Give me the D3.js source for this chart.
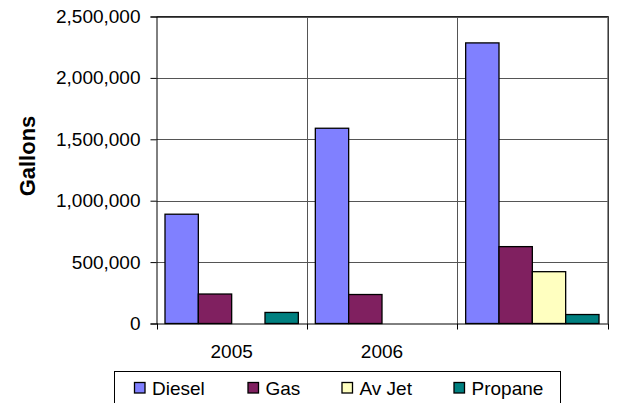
<!DOCTYPE html>
<html>
<head>
<meta charset="utf-8">
<script src="https://cdn.jsdelivr.net/npm/d3@7"></script>
<style>
html,body{margin:0;padding:0;background:#fff;}
svg{display:block;font-family:Arial,"Liberation Sans",sans-serif;}
</style>
</head>
<body>
<svg id="chart" width="626" height="403"></svg>
<script>
const categories = ["2005", "2006", ""];
const seriesNames = ["Diesel", "Gas", "Av Jet", "Propane"];
const diesel = [890000, 1590000, 2285000];
const gas = [240000, 236000, 626000];
const avJet = [0, 0, 422000];
const propane = [90000, 0, 73000];
const yTicks = [0, 500000, 1000000, 1500000, 2000000, 2500000];
const colors = ["#8080FF", "#802060", "#FFFFC0", "#008080"];
const seriesValues = [diesel, gas, avJet, propane];

const svg = d3.select("#chart");
const L = 156.5, R = 607.5, T = 16.5, B = 323.5;
const FS = 19;

const x0 = d3.scaleBand().domain(categories.map((c, i) => i)).range([L, R]).padding(0);
const x1 = d3.scaleBand().domain(seriesNames).range([0, x0.bandwidth()]).paddingInner(0).paddingOuter(0.255);
const y = d3.scaleLinear().domain([0, 2500000]).range([B, T]);

// horizontal gridlines
svg.append("g").selectAll("line").data(yTicks.slice(1)).join("line")
  .attr("x1", L).attr("x2", R)
  .attr("y1", d => Math.round(y(d)) + 0.5).attr("y2", d => Math.round(y(d)) + 0.5)
  .attr("stroke", "#555").attr("stroke-width", 1);

// vertical category gridlines
const boundaries = categories.map((c, i) => x0(i)).slice(1).concat([R]);
svg.append("g").selectAll("line").data(boundaries).join("line")
  .attr("x1", d => Math.round(d) + 0.5).attr("x2", d => Math.round(d) + 0.5)
  .attr("y1", T).attr("y2", B)
  .attr("stroke", "#555").attr("stroke-width", 1);

// top/right border
svg.append("line").attr("x1", L).attr("x2", R + 1).attr("y1", T).attr("y2", T).attr("stroke", "#222");
svg.append("line").attr("x1", R + 0.5).attr("x2", R + 0.5).attr("y1", T).attr("y2", B).attr("stroke", "#222");

// bars
const flat = [];
seriesValues.forEach((vals, s) => vals.forEach((v, c) => { if (v > 0) flat.push({s, c, v}); }));
svg.append("g").selectAll("rect").data(flat).join("rect")
  .attr("x", d => x0(d.c) + x1(seriesNames[d.s]))
  .attr("y", d => y(d.v))
  .attr("width", x1.bandwidth())
  .attr("height", d => B - y(d.v))
  .attr("fill", d => colors[d.s])
  .attr("stroke", "#000").attr("stroke-width", 1.3);

// y axis
const yAxis = svg.append("g").attr("transform", `translate(${L},0)`)
  .call(d3.axisLeft(y).tickValues(yTicks).tickSize(6).tickPadding(10).tickFormat(d3.format(",")));
yAxis.select(".domain").attr("stroke", "#000");
yAxis.selectAll(".tick line").attr("stroke", "#000");
yAxis.selectAll("text").attr("font-size", FS).attr("fill", "#000").attr("font-family", "Arial, 'Liberation Sans', sans-serif");

// x axis
const xAxis = svg.append("g").attr("transform", `translate(0,${B})`);
xAxis.append("line").attr("x1", L).attr("x2", R + 1).attr("y1", 0.5).attr("y2", 0.5).attr("stroke", "#000");
xAxis.selectAll("line.tk").data([L].concat(boundaries)).join("line").attr("class", "tk")
  .attr("x1", d => Math.round(d) + 0.5).attr("x2", d => Math.round(d) + 0.5)
  .attr("y1", 0).attr("y2", 6).attr("stroke", "#000");
xAxis.selectAll("text").data(categories).join("text")
  .attr("x", (d, i) => x0(i) + x0.bandwidth() / 2)
  .attr("y", 34.5)
  .attr("text-anchor", "middle")
  .attr("font-size", FS)
  .text(d => d);

// y title
svg.append("text")
  .attr("transform", "translate(35,156) rotate(-90)")
  .attr("text-anchor", "middle")
  .attr("font-size", 22).attr("font-weight", "bold")
  .text("Gallons");

// legend
const lg = svg.append("g");
lg.append("rect").attr("x", 114.5).attr("y", 371.5).attr("width", 446).attr("height", 50)
  .attr("fill", "#fff").attr("stroke", "#000");
const legendX = [134, 247.5, 341.5, 453.5];
const items = lg.selectAll("g").data(seriesNames).join("g")
  .attr("transform", (d, i) => `translate(${legendX[i]},0)`);
items.append("rect").attr("x", 0.5).attr("y", 382.5).attr("width", 10.5).attr("height", 10.5)
  .attr("fill", (d, i) => colors[i]).attr("stroke", "#000").attr("stroke-width", 1.3);
items.append("text").attr("x", 18).attr("y", 394.5).attr("font-size", FS).text(d => d);
</script>
</body>
</html>
